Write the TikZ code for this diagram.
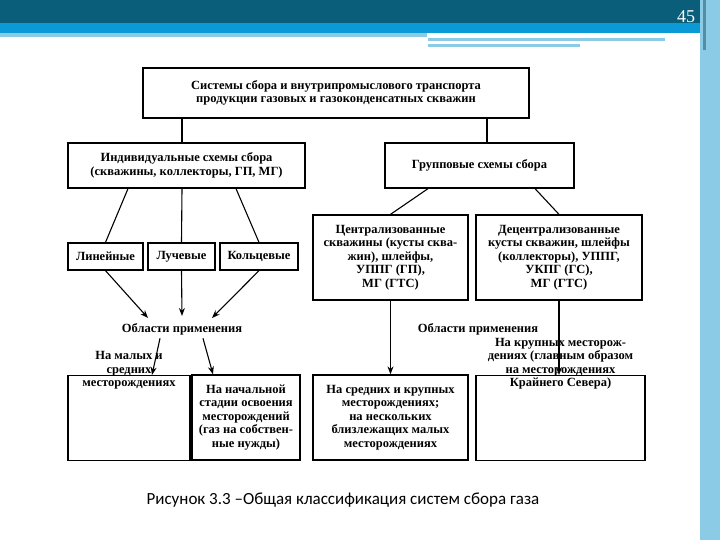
\documentclass[tikz,border=0pt]{standalone}
\usepackage{fontspec}
\setmainfont{Liberation Serif}
\newfontfamily\capfont{Carlito}
\usetikzlibrary{arrows.meta}
\definecolor{teal}{HTML}{0B5E7A}
\definecolor{blu}{HTML}{0A9AD6}
\definecolor{lblu}{HTML}{8CCBE6}
\begin{document}
\begin{tikzpicture}[x=1pt,y=-1pt,
  box/.style={draw,line width=1.3pt,align=center,font=\bfseries\fontsize{12.5}{13.5}\selectfont,inner sep=1pt},
  ln/.style={line width=1.1pt},
  ar/.style={line width=1.1pt,-{Stealth[length=8pt,width=6pt]}}]
\useasboundingbox (0,0) rectangle (720,540);
\fill[white] (0,0) rectangle (720,540);
\fill[teal] (0,0) rectangle (720,23);
\fill[blu] (0,23) rectangle (720,33);
\fill[lblu] (0,33) rectangle (427,37);
\fill[lblu] (428,38) rectangle (665,41);
\fill[lblu] (428,44) rectangle (580,47);
\fill[lblu] (700,0) rectangle (720,540);
\fill[teal!70] (703,0) rectangle (706,50);
\node[text=white,font=\fontsize{18}{20}\selectfont] (pg) at (686,17) {45};
\node[box,minimum width=386,minimum height=50] (top) at (336,93) {Системы сбора и внутрипромыслового транспорта\\продукции газовых и газоконденсатных скважин};
\node[box,minimum width=237,minimum height=45] (ind) at (186.5,165.5) {Индивидуальные схемы сбора\\(скважины, коллекторы, ГП, МГ)};
\node[box,minimum width=189,minimum height=45] (grp) at (479.5,165.5) {Групповые схемы сбора};
\node[box,minimum width=75,minimum height=27] (lin) at (105.5,256.5) {Линейные};
\node[box,minimum width=67,minimum height=27] (luch) at (181.5,256.5) {Лучевые};
\node[box,minimum width=78,minimum height=27] (kol) at (259,256.5) {Кольцевые};
\node[box,minimum width=155,minimum height=85] (cen) at (390.5,257.5) {Централизованные\\скважины (кусты сква-\\жин), шлейфы,\\УППГ (ГП),\\МГ (ГТС)};
\node[box,minimum width=166,minimum height=85] (dec) at (559,257.5) {Децентрализованные\\кусты скважин, шлейфы\\(коллекторы), УППГ,\\УКПГ (ГС),\\МГ (ГТС)};
\node[font=\bfseries\fontsize{12.5}{13.5}\selectfont] (ob1) at (182,329) {Области применения};
\node[font=\bfseries\fontsize{12.5}{13.5}\selectfont] (ob2) at (478,329) {Области применения};
\node[box,minimum width=122,anchor=north,text height=10pt,text depth=73pt] (b1) at (129,375) {На малых и\\средних\\месторождениях};
\node[box,minimum width=108,minimum height=85] (b2) at (246,417.5) {На начальной\\стадии освоения\\месторождений\\(газ на собствен-\\ные нужды)};
\node[box,minimum width=155,minimum height=85] (b3) at (390.5,417.5) {На средних и крупных\\месторождениях;\\на нескольких\\близлежащих малых\\месторождениях};
\node[box,minimum width=169,anchor=north,text height=10pt,text depth=73pt] (b4) at (560.5,375) {На крупных месторож-\\дениях (главным образом\\на месторождениях\\Крайнего Севера)};
\node[font=\capfont\fontsize{17}{19}\selectfont,anchor=west] (cap) at (143,500) {Рисунок 3.3 –Общая классификация систем сбора газа};
\draw[ln] (top.south -| 182,0) -- (ind.north -| 182,0);
\draw[ln] (top.south -| 487,0) -- (grp.north -| 487,0);
\draw[ln] (ind.south -| 128,0) -- (lin.north);
\draw[ln] (ind.south -| 182,0) -- (luch.north);
\draw[ln] (ind.south -| 236,0) -- (kol.north);
\draw[ln] (grp.south -| 428,0) -- (cen.north);
\draw[ln] (grp.south -| 535,0) -- (dec.north);
\coordinate (a1) at (148,318);
\coordinate (a2) at (182,316);
\coordinate (a3) at (212,318);
\draw[ar] (lin.south) -- (a1);
\draw[ar] (luch.south) -- (a2);
\draw[ar] (kol.south) -- (a3);
\draw[ar] (ob1.south -| 160,0) -- (b1.north -| 152,0);
\draw[ar] (ob1.south -| 203,0) -- (b2.north -| 213,0);
\draw[ar] (cen.south) -- (b3.north);
\draw[ar] (dec.south) -- (dec.south |- b4.north);
\end{tikzpicture}
\end{document}
